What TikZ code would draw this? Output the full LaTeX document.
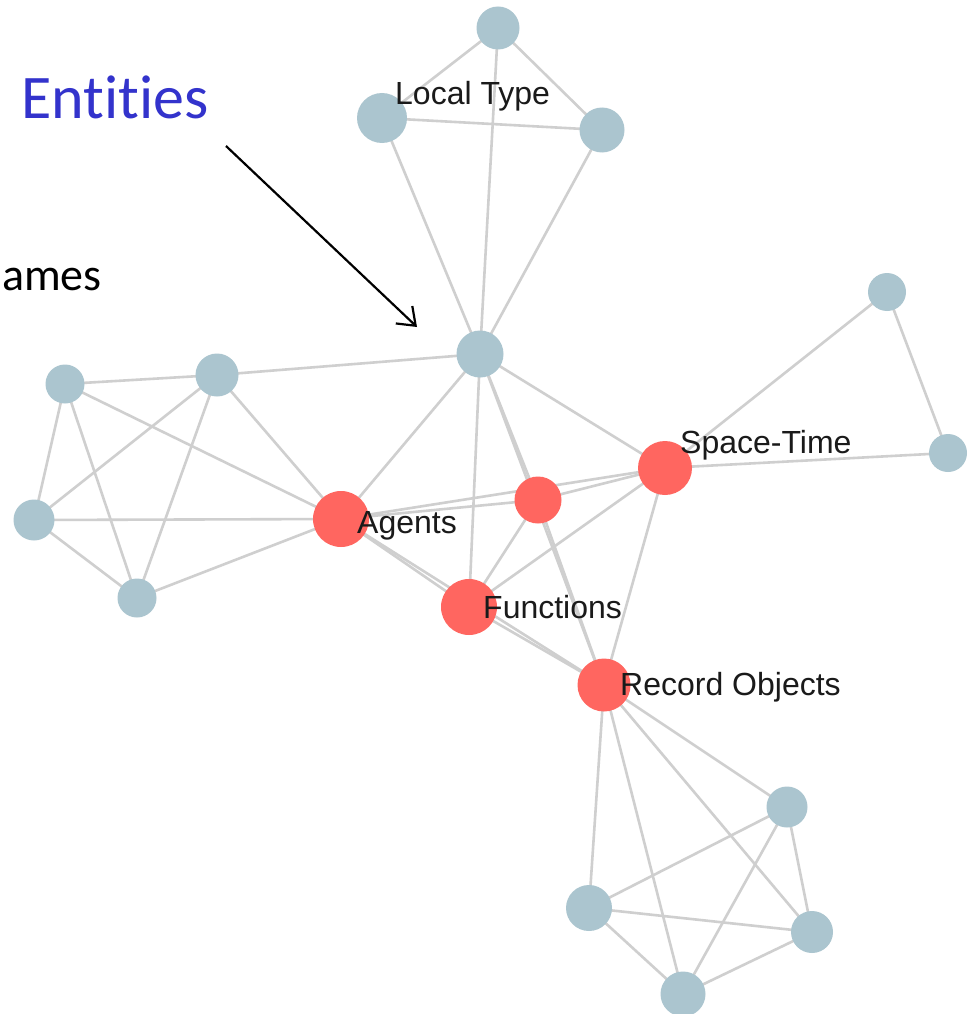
\documentclass[tikz,border=0pt]{standalone}
\usepackage{fontspec}
\setmainfont{Liberation Sans}
\newfontfamily\calib[Ligatures=NoCommon]{Carlito}
\usetikzlibrary{arrows.meta,backgrounds}
\definecolor{bnode}{HTML}{ABC5CF}
\definecolor{rnode}{HTML}{FF6660}
\definecolor{edgec}{HTML}{CFCFCF}
\definecolor{entblue}{HTML}{3333CC}
\definecolor{lbltext}{HTML}{1A1A1A}
\tikzset{
  bn/.style={circle, fill=bnode, inner sep=0pt, minimum size=#1},
  rn/.style={circle, fill=rnode, inner sep=0pt, minimum size=#1},
  edge/.style={draw=edgec, line width=2.6pt},
  lbl/.style={anchor=base west, inner sep=0pt, font=\fontsize{32}{38}\selectfont, text=lbltext},
  pointer/.style={draw=black, line width=2.2pt, -{Straight Barb[length=16pt,width=24pt,line width=2.2pt]}},
}
\begin{document}
\begin{tikzpicture}[x=1pt,y=-1pt]
\useasboundingbox (0,0) rectangle (967,1014);
% nodes
\node[bn=43] (T1) at (498,28) {};
\node[bn=50] (LT) at (382,118) {};
\node[bn=45] (T3) at (602,130) {};
\node[bn=47] (C) at (480,354) {};
\node[bn=38] (R1) at (887,292) {};
\node[bn=38] (R2) at (948,453) {};
\node[rn=54] (ST) at (665,468) {};
\node[rn=47] (M) at (538,500) {};
\node[rn=56] (AG) at (341,519) {};
\node[rn=56] (FN) at (469,607) {};
\node[rn=53] (RO) at (604,685) {};
\node[bn=39] (L1) at (65,384) {};
\node[bn=43] (L2) at (217,375) {};
\node[bn=41] (L3) at (34,520) {};
\node[bn=39] (L4) at (137,598) {};
\node[bn=41] (B1) at (787,807) {};
\node[bn=46] (B2) at (589,908) {};
\node[bn=42] (B3) at (812,932) {};
\node[bn=45] (B4) at (683,994) {};
% edges
\begin{scope}[on background layer]
\fill[white] (0,0) rectangle (967,1014);
\foreach \a/\b in {T1/LT,T1/T3,T1/C,LT/T3,LT/C,T3/C,
  L1/L2,L1/L3,L1/L4,L1/AG,L2/L3,L2/L4,L2/AG,L2/C,L3/AG,L3/L4,L4/AG,
  R1/ST,R1/R2,R2/ST,
  RO/B1,RO/B2,RO/B3,RO/B4,B1/B2,B1/B3,B1/B4,B2/B3,B2/B4,B3/B4,
  C/AG,C/FN,C/M,C/RO,C/ST,
  AG/M,AG/ST,M/ST,AG/FN,AG/RO,FN/RO,FN/M,FN/ST,M/RO,ST/RO}
  \draw[edge] (\a.center) -- (\b.center);
\end{scope}
% labels
\node[lbl] (lLT) at (395,105) {Local Type};
\node[lbl] (lST) at (680,453) {Space-Time};
\node[lbl] (lAG) at (357,533) {Agents};
\node[lbl] (lFN) at (483,618) {Functions};
\node[lbl] (lRO) at (620,695) {Record Objects};
% annotation
\node[anchor=base west, inner sep=0pt, text=entblue, font=\calib\fontsize{62}{70}\selectfont] (ent) at (21,119) {Entities};
\node[anchor=base west, inner sep=0pt, text=black, font=\calib\fontsize{46}{52}\selectfont] (ames) at (2,290) {ames};
\coordinate (arS) at (226,146);
\coordinate (arE) at (417,327);
\draw[pointer] (arS) -- (arE);
\end{tikzpicture}
\end{document}
